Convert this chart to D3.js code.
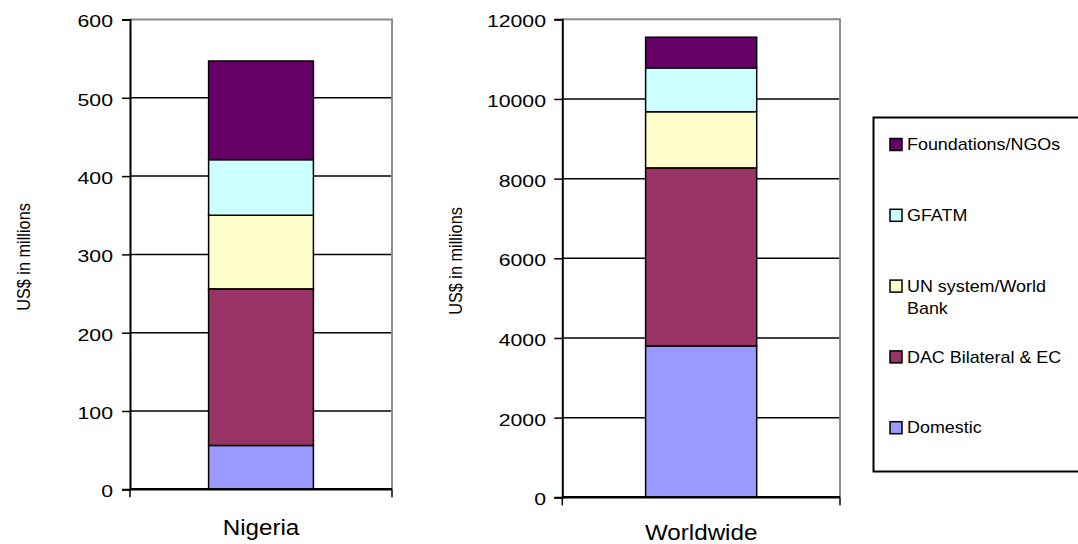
<!DOCTYPE html>
<html>
<head>
<meta charset="utf-8">
<script src="https://cdn.jsdelivr.net/npm/d3@7"></script>
<style>
  html, body { margin: 0; padding: 0; background: #fff; }
  svg { display: block; font-family: "Liberation Sans", Arial, sans-serif; }
</style>
</head>
<body>
<svg id="chart" width="1078" height="544"></svg>
<script>
// Funding sources, bottom of the stack first
const sources = ["Domestic", "DAC Bilateral & EC", "UN system/World Bank", "GFATM", "Foundations/NGOs"];
const sourceColors = ["#9999FF", "#993366", "#FFFFCC", "#CCFFFF", "#660066"];

// US$ millions per source
const nigeriaValues = [56, 200, 94, 71, 126];
const worldwideValues = [3800, 4470, 1410, 1100, 770];

const nigeriaTicks = [0, 100, 200, 300, 400, 500, 600];
const worldwideTicks = [0, 2000, 4000, 6000, 8000, 10000, 12000];

// Legend lines, top to bottom
const legendLines = [["Foundations/NGOs"], ["GFATM"], ["UN system/World", "Bank"], ["DAC Bilateral & EC"], ["Domestic"]];

const svg = d3.select("#chart");

function drawPanel(cfg) {
  const { category, values, ticks, x0, x1, yTop, yBottom, titleX, titleY, labelRight, catBaseline } = cfg;
  const g = svg.append("g");

  const y = d3.scaleLinear().domain([0, d3.max(ticks)]).range([yBottom, yTop]);
  const x = d3.scaleBand().domain([category]).range([x0, x1]).paddingInner(0).paddingOuter(0.75);

  // horizontal gridlines
  g.append("g").selectAll("line")
    .data(ticks.filter(t => t !== d3.max(ticks)))
    .join("line")
    .attr("x1", x0).attr("x2", x1)
    .attr("y1", d => y(d)).attr("y2", d => y(d))
    .attr("stroke", "#000").attr("stroke-width", 1.5);

  // plot frame (top and right)
  g.append("path")
    .attr("d", `M${x0},${y(d3.max(ticks))}H${x1}V${y(0)}`)
    .attr("fill", "none").attr("stroke", "#8c8c8c").attr("stroke-width", 2);

  // stacked bar
  const row = { cat: category };
  sources.forEach((s, i) => row[s] = values[i]);
  const stacked = d3.stack().keys(sources)([row]);
  g.append("g").selectAll("rect")
    .data(stacked)
    .join("rect")
    .attr("x", x(category))
    .attr("width", x.bandwidth())
    .attr("y", d => y(d[0][1]))
    .attr("height", d => y(d[0][0]) - y(d[0][1]))
    .attr("fill", (d, i) => sourceColors[i])
    .attr("stroke", "#000").attr("stroke-width", 1.5);

  // value axis
  const yAxis = d3.axisLeft(y).tickValues(ticks).tickSize(8).tickFormat(d3.format("d"));
  const ya = g.append("g").attr("transform", `translate(${x0},0)`).call(yAxis);
  ya.select(".domain").attr("stroke", "#000").attr("stroke-width", 2);
  ya.selectAll(".tick line").attr("stroke", "#000").attr("stroke-width", 1.5);
  ya.selectAll(".tick text").remove();
  ya.selectAll(".tick").append("g")
    .attr("transform", `translate(${labelRight - x0},1.5) scale(1.25,1)`)
    .append("text")
    .attr("text-anchor", "end")
    .attr("dy", "0.35em")
    .attr("font-size", 17)
    .attr("fill", "#000")
    .text(d => d);

  // baseline and category axis end ticks
  g.append("line")
    .attr("x1", x0).attr("x2", x1).attr("y1", y(0)).attr("y2", y(0))
    .attr("stroke", "#000").attr("stroke-width", 2.5);
  g.append("g").selectAll("line")
    .data([x0, x1])
    .join("line")
    .attr("x1", d => d).attr("x2", d => d)
    .attr("y1", y(0)).attr("y2", y(0) + 8)
    .attr("stroke", "#000").attr("stroke-width", 1.5);

  // category label
  g.append("g")
    .attr("transform", `translate(${x(category) + x.bandwidth() / 2},${catBaseline}) scale(1.1,1)`)
    .append("text")
    .attr("text-anchor", "middle")
    .attr("font-size", 22)
    .attr("fill", "#000")
    .text(category);

  // value axis title
  g.append("text")
    .attr("transform", `translate(${titleX},${titleY}) rotate(-90) scale(1,1.15)`)
    .attr("text-anchor", "middle")
    .attr("dy", "0.35em")
    .attr("font-size", 16.3)
    .attr("fill", "#000")
    .text("US$ in millions");
}

drawPanel({
  category: "Nigeria", values: nigeriaValues, ticks: nigeriaTicks,
  x0: 130, x1: 392, yTop: 19.5, yBottom: 489.3,
  titleX: 23, titleY: 257, labelRight: 113, catBaseline: 535
});

drawPanel({
  category: "Worldwide", values: worldwideValues, ticks: worldwideTicks,
  x0: 562.3, x1: 840, yTop: 19.3, yBottom: 497.3,
  titleX: 455, titleY: 261, labelRight: 546, catBaseline: 540
});

// legend
const legend = svg.append("g");
legend.append("rect")
  .attr("x", 873.5).attr("y", 117.5)
  .attr("width", 240).attr("height", 354)
  .attr("fill", "#fff").attr("stroke", "#000").attr("stroke-width", 2);

const legendY = d3.scalePoint().domain(d3.range(legendLines.length)).range([144.5, 427.7]);
const items = legend.selectAll("g.item")
  .data(legendLines)
  .join("g")
  .attr("class", "item")
  .attr("transform", (d, i) => `translate(890,${legendY(i)})`);

items.append("rect")
  .attr("x", 0).attr("y", -6)
  .attr("width", 12).attr("height", 12)
  .attr("fill", (d, i) => sourceColors[sources.length - 1 - i])
  .attr("stroke", "#000").attr("stroke-width", 1.5);

items.append("g")
  .attr("transform", "translate(17,0) scale(1.12,1)")
  .append("text")
  .attr("font-size", 16)
  .attr("fill", "#000")
  .selectAll("tspan")
  .data(d => d)
  .join("tspan")
  .attr("x", 0)
  .attr("y", (d, j) => j * 22.6)
  .attr("dy", "0.35em")
  .text(d => d);
</script>
</body>
</html>
